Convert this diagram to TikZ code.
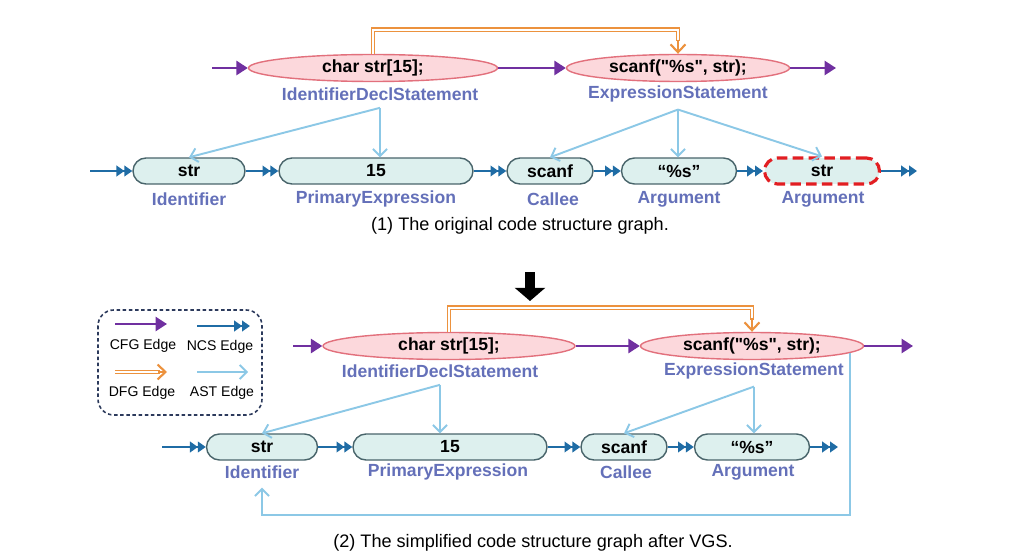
\documentclass[tikz,border=0pt]{standalone}
\usepackage{fontspec}
\setmainfont{Liberation Sans}[Ligatures=TeXOff]
\usetikzlibrary{arrows.meta,shapes.geometric}

\definecolor{stmtfill}{RGB}{252,216,220}
\definecolor{stmtdraw}{RGB}{226,112,124}
\definecolor{synfill}{RGB}{221,240,238}
\definecolor{syndraw}{RGB}{72,100,106}
\definecolor{tagblue}{RGB}{100,112,185}
\definecolor{cfgpurple}{RGB}{112,48,160}
\definecolor{ncsblue}{RGB}{31,108,165}
\definecolor{dfgorange}{RGB}{236,146,62}
\definecolor{astblue}{RGB}{140,200,230}
\definecolor{missred}{RGB}{226,30,34}
\definecolor{keyline}{RGB}{44,58,92}

\tikzset{
    stmtnode/.style={ellipse,draw=stmtdraw,fill=stmtfill,line width=0.8pt,
        minimum height=0.54cm,inner sep=0pt,font=\bfseries\fontsize{10}{12}\selectfont},
    synnode/.style={rectangle,rounded corners=0.26cm,draw=syndraw,fill=synfill,line width=0.8pt,
        minimum height=0.52cm,inner sep=0pt,font=\bfseries\fontsize{10}{12}\selectfont},
    tag/.style={text=tagblue,inner sep=1pt,font=\bfseries\fontsize{10}{12}\selectfont},
    caption/.style={font=\fontsize{10.3}{12}\selectfont},
    keytext/.style={font=\fontsize{8}{10}\selectfont},
    cfgedge/.style={draw=cfgpurple,line width=1.4pt,-{Triangle[length=6.5pt,width=8pt]}},
    ncsedge/.style={draw=ncsblue,line width=1.4pt,
        -{Triangle[length=4.5pt,width=6pt]Triangle[length=4.5pt,width=6pt]}},
    astedge/.style={draw=astblue,line width=1.1pt,-{Straight Barb[length=4pt,width=8pt]}},
    dfgedge/.style={draw=dfgorange,double=white,double distance=1.4pt,line width=0.7pt},
    dfgtip/.style={draw=dfgorange,line width=1.2pt,-{Straight Barb[length=4.5pt,width=8.5pt]}}
}

\begin{document}
\begin{tikzpicture}[x=0.02cm,y=-0.02cm]
\useasboundingbox (0,0) rectangle (1024,557);

\node[stmtnode,minimum width=4.98cm] (decl) at (373,68) {char str[15];};
\node[stmtnode,minimum width=4.46cm] (expr) at (678,68) {scanf("\%s", str);};
\node[tag] (tdecl) at (380,94) {IdentifierDeclStatement};
\node[tag] (texpr) at (678,94) {ExpressionStatement};

\node[synnode,minimum width=2.24cm] (id) at (189,171) {str};
\node[synnode,minimum width=3.88cm] (lit) at (376,171) {15};
\node[synnode,minimum width=1.72cm] (callee) at (550,171) {scanf};
\node[synnode,minimum width=2.3cm] (arg) at (679,171) {“\%s”};
\node[synnode,minimum width=2.3cm,draw=missred,line width=1.8pt,
      dash pattern=on 6pt off 3pt] (argstr) at (822,171) {str};
\node[tag] (tid) at (189,199) {Identifier};
\node[tag] (tlit) at (376,199) {PrimaryExpression};
\node[tag] (tcallee) at (553,199) {Callee};
\node[tag] (targ) at (679,199) {Argument};
\node[tag] (targstr) at (823,199) {Argument};
\node[caption] (cap1) at (520,226) {(1) The original code structure graph.};

\coordinate (cin) at (212,68);
\coordinate (cout) at (836,68);
\draw[cfgedge] (cin) -- (decl.west);
\draw[cfgedge] (decl.east) -- (expr.west);
\draw[cfgedge] (expr.east) -- (cout);
\draw[dfgedge] (decl.north) -- ++(0,-24) -| ([yshift=7pt]expr.north);
\draw[dfgtip] ([yshift=8pt]expr.north) -- (expr.north);

\coordinate (nin) at (90,171);
\coordinate (nout) at (917,171);
\draw[ncsedge] (nin) -- (id.west);
\draw[ncsedge] (id.east) -- (lit.west);
\draw[ncsedge] (lit.east) -- (callee.west);
\draw[ncsedge] (callee.east) -- (arg.west);
\draw[ncsedge] (arg.east) -- (argstr.west);
\draw[ncsedge] (argstr.east) -- (nout);

\coordinate (ta) at ([yshift=-3pt]tdecl.south);
\coordinate (tb) at ([yshift=-3pt]texpr.south);
\draw[astedge] (ta) -- (id.north);
\draw[astedge] (ta) -- (ta |- lit.north);
\draw[astedge] (tb) -- (callee.north);
\draw[astedge] (tb) -- (tb |- arg.north);
\draw[astedge] (tb) -- (argstr.north);

\draw[line width=5.5pt,-{Triangle[length=7.5pt,width=17pt]}] (530,272) -- (530,301);

\draw[keyline,line width=0.9pt,dash pattern=on 2pt off 1.5pt,rounded corners=9pt]
    (98,310) rectangle (262,415);
\draw[cfgedge] (115,324) -- (167,324);
\draw[ncsedge] (197,326) -- (250,326);
\draw[dfgedge] (115,372) -- (160,372);
\draw[dfgtip] (158,372) -- (167,372);
\draw[astedge] (197,372) -- (248,372);
\node[keytext] (kcfg) at (143,346) {CFG Edge};
\node[keytext] (kncs) at (220,347) {NCS Edge};
\node[keytext] (kdfg) at (142,393) {DFG Edge};
\node[keytext] (kast) at (222,393) {AST Edge};

\node[stmtnode,minimum width=5.04cm] (decl2) at (449,346) {char str[15];};
\node[stmtnode,minimum width=4.46cm] (expr2) at (752,346) {scanf("\%s", str);};
\node[tag] (tdecl2) at (440,371) {IdentifierDeclStatement};
\node[tag] (texpr2) at (754,371) {ExpressionStatement};

\node[synnode,minimum width=2.22cm] (id2) at (262,447) {str};
\node[synnode,minimum width=3.88cm] (lit2) at (450,447) {15};
\node[synnode,minimum width=1.72cm] (callee2) at (624,447) {scanf};
\node[synnode,minimum width=2.3cm] (arg2) at (752,447) {“\%s”};
\node[tag] (tid2) at (262,472) {Identifier};
\node[tag] (tlit2) at (448,472) {PrimaryExpression};
\node[tag] (tcallee2) at (626,472) {Callee};
\node[tag] (targ2) at (753,472) {Argument};
\node[caption] (cap2) at (533,543) {(2) The simplified code structure graph after VGS.};

\coordinate (cin2) at (293,346);
\coordinate (cout2) at (913,346);
\draw[cfgedge] (cin2) -- (decl2.west);
\draw[cfgedge] (decl2.east) -- (expr2.west);
\draw[cfgedge] (expr2.east) -- (cout2);
\draw[dfgedge] (decl2.north) -- ++(0,-24) -| ([yshift=7pt]expr2.north);
\draw[dfgtip] ([yshift=8pt]expr2.north) -- (expr2.north);

\coordinate (nin2) at (162,447);
\coordinate (nout2) at (838,447);
\draw[ncsedge] (nin2) -- (id2.west);
\draw[ncsedge] (id2.east) -- (lit2.west);
\draw[ncsedge] (lit2.east) -- (callee2.west);
\draw[ncsedge] (callee2.east) -- (arg2.west);
\draw[ncsedge] (arg2.east) -- (nout2);

\coordinate (tc) at ([yshift=-3pt]tdecl2.south);
\coordinate (td) at ([yshift=-3pt]texpr2.south);
\draw[astedge] (tc) -- (id2.north);
\draw[astedge] (tc) -- (tc |- lit2.north);
\draw[astedge] (td) -- (callee2.north);
\draw[astedge] (td) -- (td |- arg2.north);
\draw[astedge] (expr2.-4) -- ++(0,162) -| ([yshift=-4pt]tid2.south);

\end{tikzpicture}
\end{document}
